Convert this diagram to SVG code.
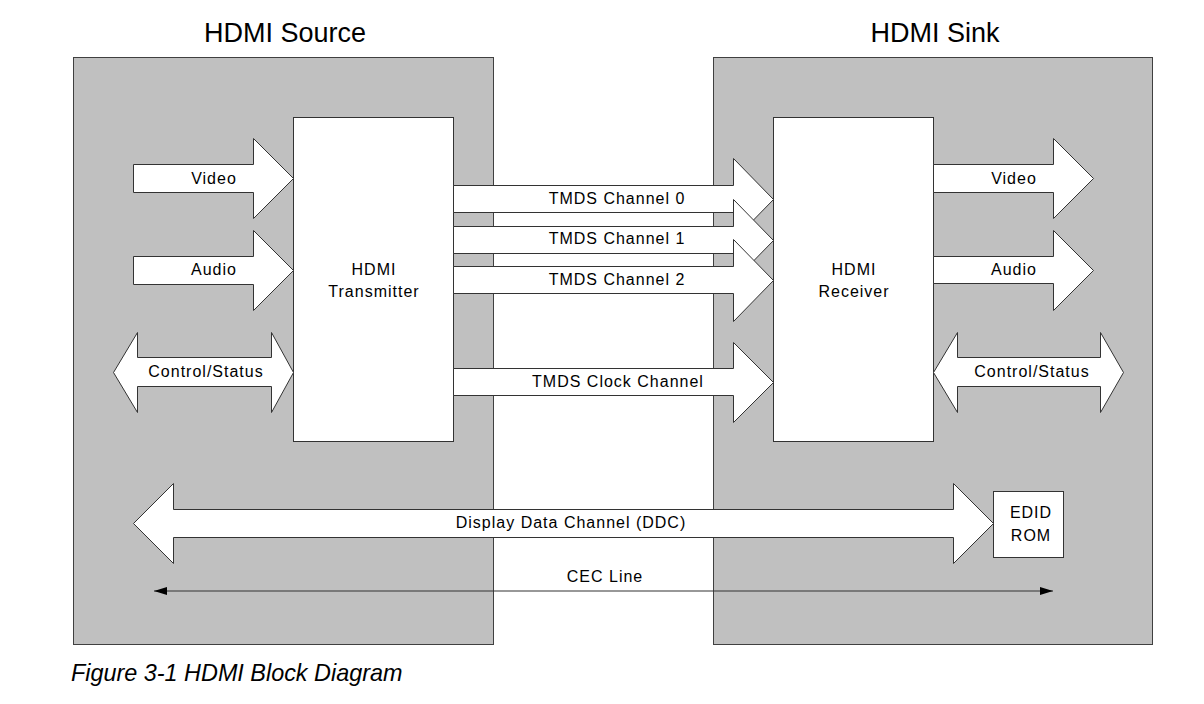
<svg xmlns="http://www.w3.org/2000/svg" width="1204" height="704" viewBox="0 0 1204 704">
<style>
.panel{fill:#c0c0c0;stroke:#404040;stroke-width:1}
.box{fill:#fff;stroke:#333;stroke-width:1}
.arr{fill:#fff;stroke:#333;stroke-width:1;stroke-linejoin:miter}
.lbl{font-family:"Liberation Sans",Arial,sans-serif;font-size:16px;letter-spacing:1px;fill:#000;text-anchor:middle}
.title{font-family:"Liberation Sans",Arial,sans-serif;font-size:27px;fill:#000;text-anchor:middle}
.cap{font-family:"Liberation Sans",Arial,sans-serif;font-size:23.4px;font-style:italic;fill:#000}
.cec{stroke:#333;stroke-width:1.2;fill:none}
</style>
<defs>
<marker id="ah" viewBox="0 0 13 8" refX="13" refY="4" markerWidth="13" markerHeight="8" markerUnits="userSpaceOnUse" orient="auto-start-reverse">
<path d="M0,0 L13,4 L0,8 Z" fill="#000"/>
</marker>
</defs>
<rect width="1204" height="704" fill="#fff"/>
<g id="source">
<rect class="panel" x="73.5" y="57.5" width="420" height="587"/>
<text class="title" x="285" y="42">HDMI Source</text>
</g>
<g id="sink">
<rect class="panel" x="713.5" y="57.5" width="439" height="587"/>
<text class="title" x="935" y="42">HDMI Sink</text>
</g>
<g id="transmitter">
<rect class="box" x="293.5" y="117.5" width="160" height="324"/>
<text class="lbl" x="374" y="275">HDMI</text>
<text class="lbl" x="374" y="297">Transmitter</text>
</g>
<g id="receiver">
<rect class="box" x="773.5" y="117.5" width="160" height="324"/>
<text class="lbl" x="854" y="275">HDMI</text>
<text class="lbl" x="854" y="297">Receiver</text>
</g>
<g id="edid">
<rect class="box" x="993.5" y="491.5" width="70" height="66"/>
<text class="lbl" x="1031" y="518">EDID</text>
<text class="lbl" x="1031" y="541">ROM</text>
</g>
<g id="connectors">
<g id="src-video">
<polygon class="arr" points="133.5,164.5 253.5,164.5 253.5,138.5 293.5,178.5 253.5,218.5 253.5,192.5 133.5,192.5"/>
<text class="lbl" x="214" y="184">Video</text>
</g>
<g id="src-audio">
<polygon class="arr" points="133.5,256.5 253.5,256.5 253.5,230.5 293.5,270.5 253.5,310.5 253.5,284.5 133.5,284.5"/>
<text class="lbl" x="214" y="275">Audio</text>
</g>
<g id="src-control">
<polygon class="arr" points="113.5,372.5 137.5,332.5 137.5,357.5 271.5,357.5 271.5,332.5 293.5,372.5 271.5,412.5 271.5,386.5 137.5,386.5 137.5,412.5"/>
<text class="lbl" x="206" y="377">Control/Status</text>
</g>
<g id="tmds0">
<polygon class="arr" points="453.5,185.5 733.5,185.5 733.5,158.5 773.5,199.5 733.5,240.5 733.5,212.5 453.5,212.5"/>
<text class="lbl" x="617" y="204">TMDS Channel 0</text>
</g>
<g id="tmds1">
<polygon class="arr" points="453.5,226.5 733.5,226.5 733.5,199.5 773.5,240.5 733.5,281.5 733.5,253.5 453.5,253.5"/>
<text class="lbl" x="617" y="244">TMDS Channel 1</text>
</g>
<g id="tmds2">
<polygon class="arr" points="453.5,266.5 733.5,266.5 733.5,239.5 773.5,280.5 733.5,321.5 733.5,293.5 453.5,293.5"/>
<text class="lbl" x="617" y="285">TMDS Channel 2</text>
</g>
<g id="tmds-clock">
<polygon class="arr" points="453.5,368.5 733.5,368.5 733.5,342.5 773.5,382.5 733.5,422.5 733.5,395.5 453.5,395.5"/>
<text class="lbl" x="618" y="387">TMDS Clock Channel</text>
</g>
<g id="snk-video">
<polygon class="arr" points="933.5,164.5 1053.5,164.5 1053.5,138.5 1093.5,178.5 1053.5,218.5 1053.5,192.5 933.5,192.5"/>
<text class="lbl" x="1014" y="184">Video</text>
</g>
<g id="snk-audio">
<polygon class="arr" points="933.5,256.5 1053.5,256.5 1053.5,230.5 1093.5,270.5 1053.5,310.5 1053.5,283.5 933.5,283.5"/>
<text class="lbl" x="1014" y="275">Audio</text>
</g>
<g id="snk-control">
<polygon class="arr" points="933.5,372.5 957.5,332.5 957.5,357.5 1100.5,357.5 1100.5,332.5 1123.5,372.5 1100.5,412.5 1100.5,386.5 957.5,386.5 957.5,412.5"/>
<text class="lbl" x="1032" y="377">Control/Status</text>
</g>
<g id="ddc">
<polygon class="arr" points="133.5,523.5 173.5,483.5 173.5,509.5 953.5,509.5 953.5,483.5 993.5,523.5 953.5,563.5 953.5,537.5 173.5,537.5 173.5,563.5"/>
<text class="lbl" x="571" y="528">Display Data Channel (DDC)</text>
</g>
<g id="cec">
<line class="cec" x1="154" y1="591" x2="1053" y2="591" marker-start="url(#ah)" marker-end="url(#ah)"/>
<text class="lbl" x="605" y="582">CEC Line</text>
</g>
</g>
<text class="cap" x="71" y="681">Figure 3-1 HDMI Block Diagram</text>
</svg>
